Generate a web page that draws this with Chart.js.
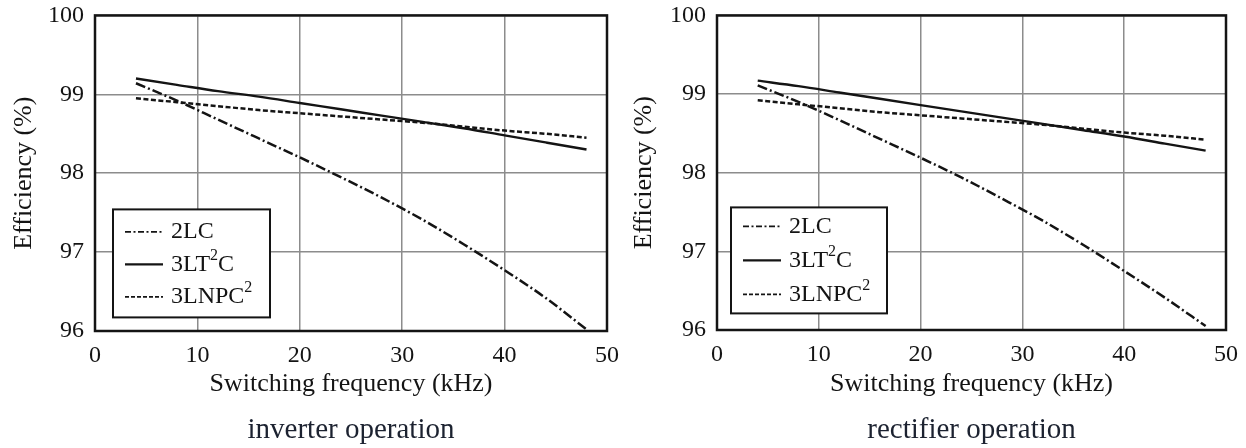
<!DOCTYPE html>
<html>
<head>
<meta charset="utf-8">
<title>Efficiency vs switching frequency</title>
<script src="https://cdn.jsdelivr.net/npm/chart.js@4.4.0/dist/chart.umd.min.js"></script>
<style>
  body { margin: 0; background: #fff; }
  #wrap { position: relative; width: 1246px; height: 448px; overflow: hidden; }
  .panel { position: absolute; top: -10px; }
</style>
</head>
<body>
<div id="wrap">
  <div class="panel" style="left:0px"><canvas id="inv" width="630" height="458"></canvas></div>
  <div class="panel" style="left:620px"><canvas id="rec" width="630" height="458"></canvas></div>
</div>
<script>
// ---- data ----
var freq = [4, 8, 12, 16, 20, 24, 28, 32, 36, 40, 44, 48];   // kHz
var seriesNames = ['2LC', '3LT²C', '3LNPC²'];
var xTicks = [0, 10, 20, 30, 40, 50];
var yTicks = [96, 97, 98, 99, 100];
var captions = ['inverter operation', 'rectifier operation'];

// inverter operation (%)
var inv2LC   = [99.14, 98.92, 98.68, 98.44, 98.20, 97.95, 97.69, 97.41, 97.10, 96.77, 96.42, 96.02];
var inv3LT2C = [99.20, 99.12, 99.04, 98.97, 98.89, 98.81, 98.73, 98.65, 98.57, 98.48, 98.39, 98.30];
var inv3LNPC = [98.95, 98.90, 98.85, 98.80, 98.76, 98.72, 98.68, 98.64, 98.59, 98.54, 98.50, 98.45];

// rectifier operation (%)
var rec2LC   = [99.11, 98.90, 98.67, 98.43, 98.19, 97.94, 97.67, 97.39, 97.08, 96.75, 96.41, 96.05];
var rec3LT2C = [99.17, 99.10, 99.02, 98.94, 98.86, 98.78, 98.70, 98.62, 98.54, 98.46, 98.37, 98.28];
var rec3LNPC = [98.92, 98.87, 98.82, 98.77, 98.73, 98.69, 98.65, 98.61, 98.56, 98.51, 98.47, 98.42];

var SERIF = '"Liberation Serif", "DejaVu Serif", serif';
var INK = '#141414';

// line look per series
var lineStyle = [
  { dash: [10, 3, 2, 3], legendDash: [6, 2.5, 2, 2.5], width: 2.5 },
  { dash: [],            legendDash: [],               width: 2.4 },
  { dash: [5, 2.5],      legendDash: [4, 2],           width: 2.5 }
];

function pts(ys) {
  return freq.map(function (f, i) { return { x: f, y: ys[i] }; });
}

// text with "²" drawn as a raised small 2
function drawRich(ctx, text, x, y, size) {
  var parts = text.split('²');
  for (var i = 0; i < parts.length; i++) {
    ctx.font = size + 'px ' + SERIF;
    ctx.fillText(parts[i], x, y);
    x += ctx.measureText(parts[i]).width;
    if (i < parts.length - 1) {
      ctx.font = Math.round(size * 0.66) + 'px ' + SERIF;
      ctx.fillText('2', x, y - size * 0.36);
      x += ctx.measureText('2').width;
    }
  }
}

// frame round the plot + boxed legend inside it
var framePlugin = {
  id: 'frameLegend',
  afterDatasetsDraw: function (chart, args, opts) {
    var ctx = chart.ctx, a = chart.chartArea;
    ctx.save();
    ctx.strokeStyle = INK;
    ctx.lineWidth = 2.5;
    ctx.setLineDash([]);
    ctx.strokeRect(a.left, a.top, a.right - a.left, a.bottom - a.top);

    var x0 = a.left + opts.dx, y0 = a.top + opts.dy;
    ctx.fillStyle = '#fff';
    ctx.fillRect(x0, y0, opts.w, opts.h);
    ctx.lineWidth = 2;
    ctx.strokeRect(x0, y0, opts.w, opts.h);

    ctx.textBaseline = 'middle';
    ctx.textAlign = 'left';
    chart.data.datasets.forEach(function (ds, i) {
      var st = lineStyle[i];
      var y = y0 + opts.rowTop + i * opts.rowGap;
      ctx.beginPath();
      ctx.setLineDash(st.legendDash);
      ctx.lineWidth = i === 1 ? 2.2 : 1.6;
      ctx.strokeStyle = INK;
      ctx.moveTo(x0 + 12, y);
      ctx.lineTo(x0 + 50, y);
      ctx.stroke();
      ctx.setLineDash([]);
      ctx.fillStyle = INK;
      drawRich(ctx, ds.label, x0 + 58, y, 24);
    });
    ctx.restore();
  }
};

function makeChart(id, caption, series, g) {
  var datasets = series.map(function (ys, i) {
    return {
      label: seriesNames[i],
      data: pts(ys),
      borderColor: INK,
      borderWidth: lineStyle[i].width,
      borderDash: lineStyle[i].dash,
      pointRadius: 0,
      cubicInterpolationMode: 'monotone',
      fill: false
    };
  });

  return new Chart(document.getElementById(id), {
    type: 'line',
    data: { datasets: datasets },
    plugins: [framePlugin],
    options: {
      responsive: false,
      animation: false,
      layout: { padding: { left: 0, top: g.top, right: g.right, bottom: 0 } },
      scales: {
        x: {
          type: 'linear',
          min: xTicks[0],
          max: xTicks[xTicks.length - 1],
          afterBuildTicks: function (s) { s.ticks = xTicks.map(function (v) { return { value: v }; }); },
          afterFit: function (s) { s.height = g.xHeight; },
          grid: { color: '#8c8c8c', lineWidth: 1.5, drawTicks: false },
          border: { display: false },
          ticks: { color: INK, padding: 10, font: { family: SERIF, size: 24 }, maxRotation: 0 },
          title: {
            display: true,
            text: 'Switching frequency (kHz)',
            color: INK,
            font: { family: SERIF, size: 26 },
            padding: { top: 0, bottom: 13 }
          }
        },
        y: {
          min: yTicks[0],
          max: yTicks[yTicks.length - 1],
          afterBuildTicks: function (s) { s.ticks = yTicks.map(function (v) { return { value: v }; }); },
          afterFit: function (s) { s.width = g.yWidth; },
          grid: { color: '#8c8c8c', lineWidth: 1.5, drawTicks: false },
          border: { display: false },
          ticks: { color: INK, padding: 11, font: { family: SERIF, size: 24 } },
          title: {
            display: true,
            text: 'Efficiency (%)',
            color: INK,
            font: { family: SERIF, size: 26 },
            padding: { top: 9, bottom: 0 }
          }
        }
      },
      plugins: {
        legend: { display: false },
        tooltip: { enabled: false },
        title: {
          display: true,
          position: 'bottom',
          fullSize: false,
          text: caption,
          color: '#1c2230',
          font: { family: SERIF, size: 29, weight: 'normal' },
          padding: 0
        },
        frameLegend: g.legend
      }
    }
  });
}

makeChart('inv', captions[0], [inv2LC, inv3LT2C, inv3LNPC], {
  top: 25, right: 23, yWidth: 95, xHeight: 82.2,
  legend: { dx: 18, dy: 194, w: 157, h: 108, rowTop: 22.5, rowGap: 32.5 }
});
makeChart('rec', captions[1], [rec2LC, rec3LT2C, rec3LNPC], {
  top: 25, right: 24, yWidth: 97, xHeight: 83.2,
  legend: { dx: 14, dy: 192, w: 156, h: 106, rowTop: 19, rowGap: 34 }
});
</script>
</body>
</html>
